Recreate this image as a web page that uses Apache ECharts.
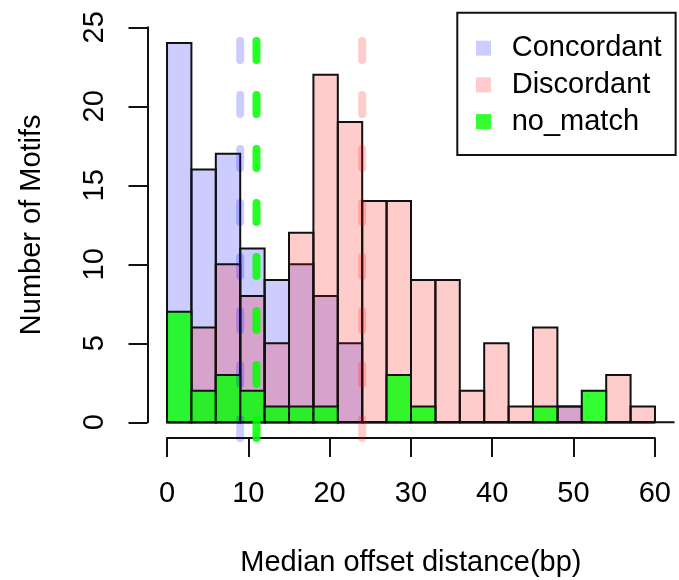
<!DOCTYPE html>
<html>
<head>
<meta charset="utf-8">
<script src="https://cdn.jsdelivr.net/npm/echarts@6/dist/echarts.min.js"></script>
<style>
  html, body { margin: 0; padding: 0; background: #fff; }
  #chart { width: 679px; height: 580px; }
</style>
</head>
<body>
<div id="chart"></div>
<script>
// Histogram bins (bp), width 3
const binEdges = [0, 3, 6, 9, 12, 15, 18, 21, 24, 27, 30, 33, 36, 39, 42, 45, 48, 51, 54, 57, 60];

// Counts of motifs per bin
const concordant = [24, 16, 17, 11, 9, 10, 8, 5, 0, 0, 0, 0, 0, 0, 0, 0, 1, 0, 0, 0];
const discordant = [0, 6, 10, 8, 5, 12, 22, 19, 14, 14, 9, 9, 2, 5, 1, 6, 1, 0, 3, 1];
const noMatch    = [7, 2, 3, 2, 1, 1, 1, 0, 0, 3, 1, 0, 0, 0, 0, 1, 0, 2, 0, 0];

// Median offset of each group
const concordantMedian = 9;
const discordantMedian = 24;
const noMatchMedian = 11;

// Axis ticks
const xTicks = [0, 10, 20, 30, 40, 50, 60];
const yTicks = [0, 5, 10, 15, 20, 25];

const seriesNames = ['Concordant', 'Discordant', 'no_match'];
const fills = ['rgba(0,0,255,0.2)', 'rgba(255,0,0,0.2)', 'rgba(0,255,0,0.8)'];
const medianColors = ['rgba(0,0,255,0.2)', 'rgba(255,0,0,0.2)', 'rgba(0,255,0,0.85)'];

// plot region in data units (R-style 4% padding)
const xMin = -2.4, xMax = 62.4;
const yMin = -1, yMax = 26;

const FONT = "'Liberation Sans', Arial, Helvetica, sans-serif";
const INK = '#111';

function binData(values) {
  return values.map((v, i) => [binEdges[i], binEdges[i + 1], v]);
}

function histSeries(name, values, fill) {
  return {
    name: name,
    type: 'custom',
    xAxisIndex: 0,
    yAxisIndex: 0,
    z: 2,
    itemStyle: { color: fill },
    data: binData(values),
    renderItem: function (params, api) {
      const top = api.coord([api.value(0), api.value(2)]);
      const bottom = api.coord([api.value(1), 0]);
      return {
        type: 'rect',
        shape: { x: top[0], y: top[1], width: bottom[0] - top[0], height: bottom[1] - top[1] },
        style: { fill: fill, stroke: INK, lineWidth: 2 }
      };
    }
  };
}

function medianSeries(name, m, color) {
  return {
    name: name,
    type: 'line',
    xAxisIndex: 0,
    yAxisIndex: 0,
    z: 3,
    symbol: 'none',
    silent: true,
    data: [[m, yMin], [m, yMax]],
    lineStyle: { color: color, width: 8, type: [19, 35], cap: 'round' }
  };
}

const chart = echarts.init(document.getElementById('chart'), null, { renderer: 'canvas' });

chart.setOption({
  animation: false,
  backgroundColor: '#fff',
  textStyle: { fontFamily: FONT },
  grid: [
    // plot region
    { left: 147.5, top: 11.5, width: 527, height: 426.6 },
    // x axis strip (0..60)
    { left: 167, top: 400, width: 487.8, height: 38 },
    // y axis strip (0..25)
    { left: 147.5, top: 27.3, width: 10, height: 395 }
  ],
  xAxis: [
    { gridIndex: 0, type: 'value', min: xMin, max: xMax, show: false },
    {
      gridIndex: 1, type: 'value', min: 0, max: 60, interval: 10, position: 'bottom',
      axisLine: { show: true, lineStyle: { color: INK, width: 2 } },
      axisTick: { show: true, inside: false, length: 19, lineStyle: { color: INK, width: 2 }, customValues: xTicks },
      axisLabel: { show: true, margin: 41, fontSize: 29, color: '#000', fontFamily: FONT, customValues: xTicks },
      splitLine: { show: false },
      name: 'Median offset distance(bp)',
      nameLocation: 'middle',
      nameGap: 125,
      nameTextStyle: { fontSize: 29, color: '#000', fontFamily: FONT, verticalAlign: 'middle' }
    },
    { gridIndex: 2, type: 'value', min: 0, max: 1, show: false }
  ],
  yAxis: [
    { gridIndex: 0, type: 'value', min: yMin, max: yMax, show: false },
    { gridIndex: 1, type: 'value', min: 0, max: 1, show: false },
    {
      gridIndex: 2, type: 'value', min: 0, max: 25, interval: 5, position: 'left',
      axisLine: { show: true, lineStyle: { color: INK, width: 2 } },
      axisTick: { show: true, inside: false, length: 19, lineStyle: { color: INK, width: 2 }, customValues: yTicks },
      axisLabel: { show: true, rotate: 90, margin: 38, fontSize: 29, color: '#000', fontFamily: FONT,
                   align: 'center', verticalAlign: 'bottom', customValues: yTicks },
      splitLine: { show: false },
      name: 'Number of Motifs',
      nameLocation: 'middle',
      nameRotate: 90,
      nameGap: 116,
      nameTextStyle: { fontSize: 29, color: '#000', fontFamily: FONT, verticalAlign: 'middle', align: 'center' }
    }
  ],
  legend: {
    orient: 'vertical',
    left: 457.3,
    top: 12.7,
    padding: [21, 14, 19, 18.7],
    itemGap: 7.7,
    itemWidth: 15,
    itemHeight: 15,
    icon: 'rect',
    backgroundColor: '#fff',
    borderColor: INK,
    borderWidth: 2,
    borderRadius: 0,
    itemStyle: { borderWidth: 0 },
    textStyle: { fontSize: 29, lineHeight: 29, color: '#000', fontFamily: FONT, padding: [0, 0, 0, 15.7] },
    data: seriesNames
  },
  series: [
    histSeries(seriesNames[0], concordant, fills[0]),
    histSeries(seriesNames[1], discordant, fills[1]),
    histSeries(seriesNames[2], noMatch, fills[2]),
    {
      name: 'baseline',
      type: 'line',
      xAxisIndex: 0,
      yAxisIndex: 0,
      z: 2,
      symbol: 'none',
      silent: true,
      data: [[binEdges[0], 0], [xMax, 0]],
      lineStyle: { color: INK, width: 2 }
    },
    medianSeries('Concordant median', concordantMedian, medianColors[0]),
    medianSeries('Discordant median', discordantMedian, medianColors[1]),
    medianSeries('no_match median', noMatchMedian, medianColors[2])
  ]
});
</script>
</body>
</html>
